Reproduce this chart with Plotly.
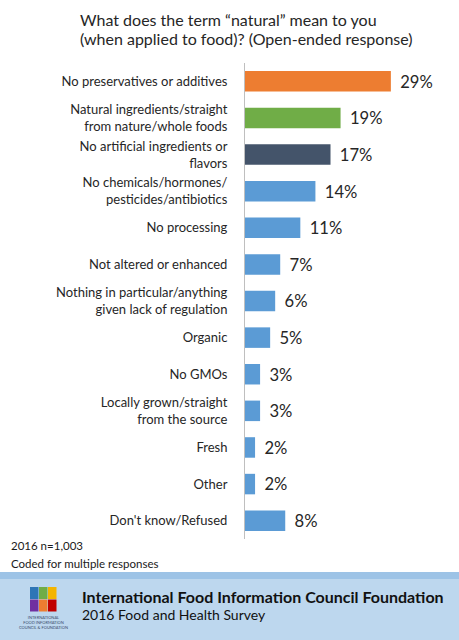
import plotly.graph_objects as go

# survey answers, top to bottom
categories = [
    "No preservatives or additives",
    "Natural ingredients/straight<br>from nature/whole foods",
    "No artificial ingredients or<br>flavors",
    "No chemicals/hormones/<br>pesticides/antibiotics",
    "No processing",
    "Not altered or enhanced",
    "Nothing in particular/anything<br>given lack of regulation",
    "Organic",
    "No GMOs",
    "Locally grown/straight<br>from the source",
    "Fresh",
    "Other",
    "Don't know/Refused",
]
values = [29, 19, 17, 14, 11, 7, 6, 5, 3, 3, 2, 2, 8]
bar_colors = ["#ED7D31", "#70AD47", "#44546A"] + ["#5B9BD5"] * 10

title_lines = [
    "What does the term \u201cnatural\u201d mean to you",
    "(when applied to food)? (Open-ended response)",
]
notes = ["2016 n=1,003", "Coded for multiple responses"]
footer_title = "International Food Information Council Foundation"
footer_sub = "2016 Food and Health Survey"

W, H = 459, 640
L, R, T, B = 245, 14, 63, 101
PW, PH = W - L - R, H - T - B
FONT = "Lato, Calibri, sans-serif"


def px(x):
    return (x - L) / PW


def py(y):
    return (H - B - y) / PH


fig = go.Figure(go.Bar(
    x=values,
    y=categories,
    orientation="h",
    marker=dict(color=bar_colors, line=dict(width=0)),
    width=0.56,
    text=[f" \u2009{v}%" for v in values],
    textposition="outside",
    textfont=dict(size=17, color="#262626", family=FONT),
    cliponaxis=False,
    hoverinfo="skip",
))

annotations = []
for i, line in enumerate(title_lines):
    annotations.append(dict(
        text=line, x=px(78), y=py(19 + i * 20), xref="paper", yref="paper",
        xanchor="left", yanchor="middle", showarrow=False,
        font=dict(size=16, color="#262626", family=FONT),
    ))
for i, line in enumerate(notes):
    annotations.append(dict(
        text=line, x=px(9), y=py(545 + i * 18), xref="paper", yref="paper",
        xanchor="left", yanchor="middle", showarrow=False,
        font=dict(size=11.5, color="#1a1a1a", family=FONT),
    ))
annotations.append(dict(
    text="<b>" + footer_title + "</b>", x=px(80), y=py(596), xref="paper", yref="paper",
    xanchor="left", yanchor="middle", showarrow=False,
    font=dict(size=16, color="#111111", family=FONT),
))
annotations.append(dict(
    text=footer_sub, x=px(80), y=py(615), xref="paper", yref="paper",
    xanchor="left", yanchor="middle", showarrow=False,
    font=dict(size=14, color="#111111", family=FONT),
))
annotations.append(dict(
    text="INTERNATIONAL<br>FOOD INFORMATION<br>COUNCIL & FOUNDATION",
    x=px(43), y=py(622), xref="paper", yref="paper",
    xanchor="center", yanchor="middle", showarrow=False,
    font=dict(size=4, color="#3a4a6a", family=FONT),
))

shapes = [
    dict(type="rect", xref="paper", yref="paper", x0=px(0), x1=px(W),
         y0=py(579), y1=py(H), fillcolor="#BDD7EE", line=dict(width=0), layer="below"),
    dict(type="rect", xref="paper", yref="paper", x0=px(0), x1=px(W),
         y0=py(572), y1=py(579), fillcolor="#9DC3E6", line=dict(width=0), layer="below"),
]
logo_colors = [["#2E75B6", "#70AD47", "#F4B400"], ["#7030A0", "#ED7D31", "#C00000"]]
for r, row in enumerate(logo_colors):
    for c, col in enumerate(row):
        x0 = 30 + c * 9
        y0 = 587 + r * 12.5
        shapes.append(dict(type="rect", xref="paper", yref="paper",
                           x0=px(x0), x1=px(x0 + 8.5), y0=py(y0), y1=py(y0 + 12),
                           fillcolor=col, line=dict(width=0)))

fig.update_layout(
    width=W, height=H,
    margin=dict(l=L, r=R, t=T, b=B, pad=0),
    paper_bgcolor="white", plot_bgcolor="white",
    showlegend=False,
    font=dict(family=FONT, color="#262626"),
    xaxis=dict(range=[0, PW / 5.03], visible=False, fixedrange=True),
    yaxis=dict(autorange="reversed", showline=True, linecolor="#BFBFBF", linewidth=1,
               ticks="", ticklabelstandoff=14, showgrid=False,
               tickfont=dict(size=13, color="#262626", family=FONT), fixedrange=True),
    annotations=annotations,
    shapes=shapes,
)

# page body has a default 8px margin; drop it so the figure fills the window
fig.write_html("out.html", config={"displayModeBar": False},
               post_script="document.body.style.margin='0';")
